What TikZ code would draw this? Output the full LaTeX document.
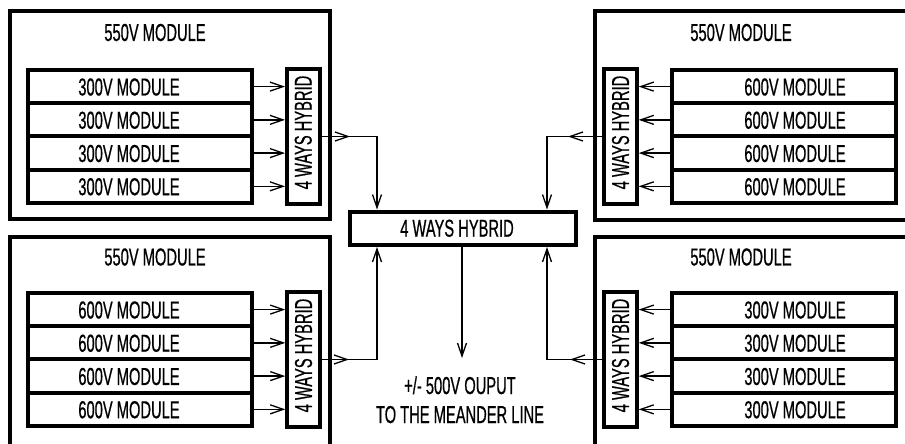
\documentclass[tikz,border=0pt]{standalone}
\usepackage{fontspec}
\setmainfont{Liberation Sans}[FakeStretch=0.6,FakeBold=0.6]
\usetikzlibrary{arrows.meta}
\tikzset{
  outerbox/.style={draw, line width=4pt, inner sep=0pt},
  modbox/.style={draw, line width=4pt, inner sep=0pt, minimum width=224pt, minimum height=33.25pt},
  hybv/.style={draw, line width=4pt, inner sep=0pt, minimum width=32.5pt, minimum height=134.5pt},
  hybc/.style={draw, line width=4pt, inner sep=0pt, minimum width=226pt, minimum height=33.5pt},
  txt/.style={inner sep=0pt, font=\fontsize{24.5}{29}\selectfont},
  conn/.style={line width=1.3pt},
  arr/.style={-{Straight Barb[length=13pt,width=9pt,line width=1.3pt]}}
}
\begin{document}
\begin{tikzpicture}[x=1pt,y=-1pt]
\useasboundingbox (0,0) rectangle (905,444);
\clip (0,0) rectangle (905,444);
% outer 550V boxes
\node[outerbox, minimum width=320.5pt, minimum height=207pt] (otl) at (169.75,115) {};
\node[outerbox, minimum width=320.5pt, minimum height=223pt] (obl) at (169.75,348.5) {};
\node[outerbox, minimum width=325pt, minimum height=208pt] (otr) at (757.5,115.5) {};
\node[outerbox, minimum width=325pt, minimum height=223pt] (obr) at (757.5,348.5) {};
\node[txt] (ttl) at (155,32.5) {550V MODULE};
\node[txt] (tbl) at (155,257) {550V MODULE};
\node[txt] (ttr) at (741,32.5) {550V MODULE};
\node[txt] (tbr) at (741,257) {550V MODULE};
% vertical hybrids
\node[hybv] (htl) at (303.25,136.5) {};
\node[hybv] (hbl) at (303.5,359.5) {};
\node[hybv] (htr) at (620.5,136.5) {};
\node[hybv] (hbr) at (620.5,359.5) {};
\foreach \h in {htl,hbl,htr,hbr}{
  \node[txt, rotate=90] at ([yshift=4pt]\h.center) {4 WAYS HYBRID};
}
% modules
\foreach \i in {0,1,2,3}{
  \pgfmathsetmacro{\ya}{87+33.25*\i}
  \pgfmathsetmacro{\yb}{310+33.25*\i}
  \node[modbox] (mtl\i) at (140,\ya-0.4) {};
  \node[txt] at (129,\ya) {300V MODULE};
  \node[modbox] (mbl\i) at (140,\yb-0.4) {};
  \node[txt] at (129,\yb) {600V MODULE};
  \node[modbox] (mtr\i) at (784,\ya-0.4) {};
  \node[txt] at (795,\ya) {600V MODULE};
  \node[modbox] (mbr\i) at (784,\yb-0.4) {};
  \node[txt] at (795,\yb) {300V MODULE};
  \draw[conn,arr] (mtl\i.east) -- (mtl\i.east -| htl.west);
  \draw[conn,arr] (mbl\i.east) -- (mbl\i.east -| hbl.west);
  \draw[conn,arr] (mtr\i.west) -- (mtr\i.west -| htr.east);
  \draw[conn,arr] (mbr\i.west) -- (mbr\i.west -| hbr.east);
}
% central hybrid
\node[hybc] (c) at (463,228.25) {};
\node[txt] (ct) at (457,228.25) {4 WAYS HYBRID};
% connectors to central hybrid
\draw[conn,arr] (htl.east) -- (350,0 |- htl.east);
\draw[conn,arr] (htl.east) -| (377,0 |- c.north);
\draw[conn,arr] (hbl.east) -- (349,0 |- hbl.east);
\draw[conn,arr] (hbl.east) -| (377,0 |- c.south);
\draw[conn,arr] (htr.west) -- (568,0 |- htr.west);
\draw[conn,arr] (htr.west) -| (547,0 |- c.north);
\draw[conn,arr] (hbr.west) -- (570,0 |- hbr.west);
\draw[conn,arr] (hbr.west) -| (547,0 |- c.south);
% output
\coordinate (otip) at (462,358);
\draw[conn,arr] (c.south -| otip) -- (otip);
\node[txt, anchor=base] (o1) at (460,394) {+/- 500V OUPUT};
\node[txt, anchor=base] (o2) at (460,423) {TO THE MEANDER LINE};
\end{tikzpicture}
\end{document}
